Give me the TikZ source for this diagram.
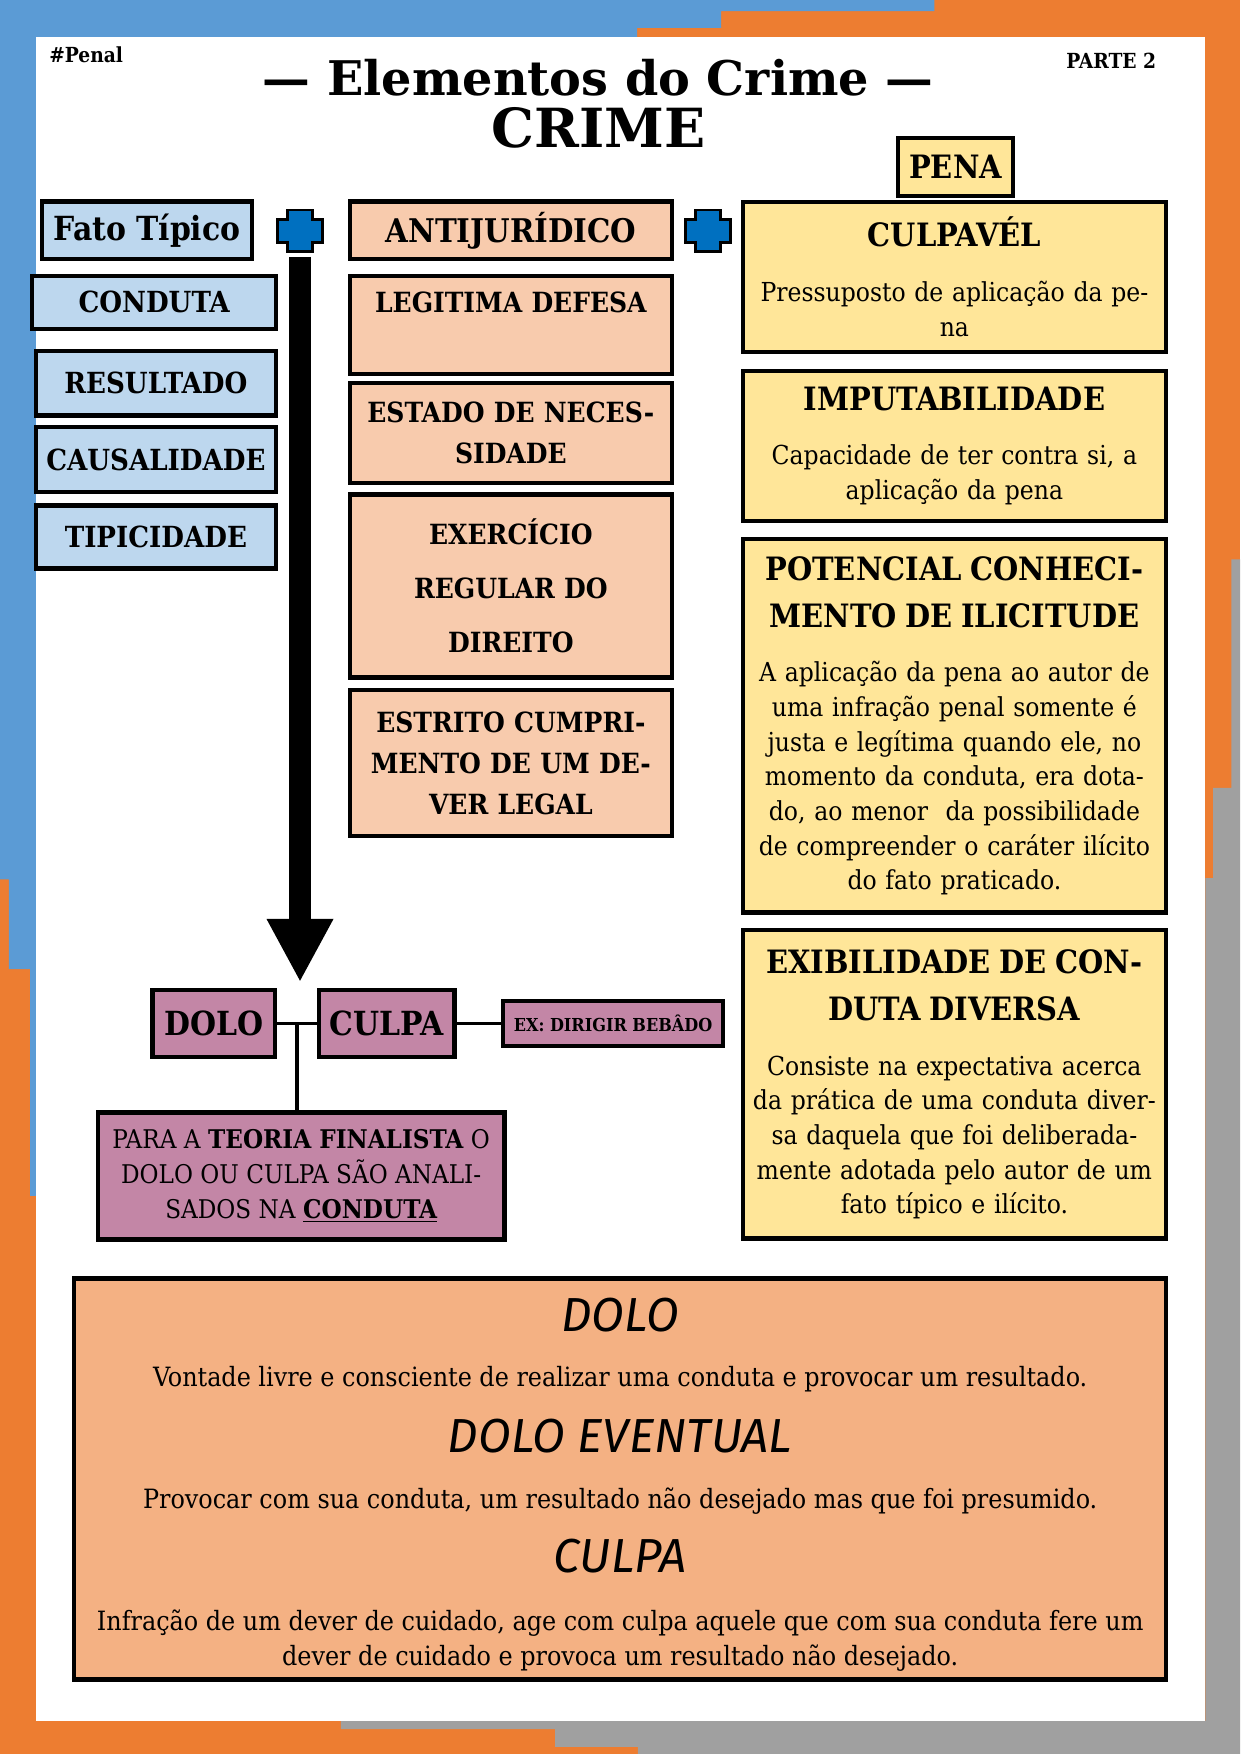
\documentclass[tikz,border=0pt]{standalone}
\usepackage{fontspec}
\setmainfont{DejaVu Serif Condensed}
\newfontfamily\titulofonte{DejaVu Serif}
\newfontfamily\manuscrita{Fira Sans}
\usetikzlibrary{arrows.meta,positioning,calc}
\definecolor{bordaazul}{RGB}{91,155,213}
\definecolor{bordalaranja}{RGB}{237,125,49}
\definecolor{bordacinza}{RGB}{160,160,160}
\definecolor{azulclaro}{RGB}{189,215,238}
\definecolor{pessego}{RGB}{248,203,173}
\definecolor{amarelo}{RGB}{255,230,153}
\definecolor{malva}{RGB}{195,134,166}
\definecolor{salmao}{RGB}{244,177,131}
\definecolor{azulmais}{RGB}{0,112,192}
\newcommand{\cabec}[1]{{\fontsize{15.5}{22.6}\selectfont\bfseries #1\par}}
\tikzset{mais/.pic={
  \draw[fill=azulmais, line width=1.4pt] (-0.38,-0.19) -- (-0.38,0.19) -- (-0.21,0.19) -- (-0.21,0.355) -- (0.21,0.355) -- (0.21,0.19)
    -- (0.38,0.19) -- (0.38,-0.19) -- (0.21,-0.19) -- (0.21,-0.355) -- (-0.21,-0.355) -- (-0.21,-0.19) -- cycle;
  \coordinate (-base) at (0,-0.44);}}

\begin{document}
\begin{tikzpicture}[caixa/.style={draw, line width=2.2pt},
  azulbox/.style={caixa, fill=azulclaro, minimum width=4.06cm, font=\fontsize{14}{16}\selectfont\bfseries},
  pessegobox/.style={caixa, fill=pessego, minimum width=5.45cm, text width=5.35cm, inner xsep=0.05cm, align=center, font=\fontsize{13.4}{19.7}\selectfont\bfseries},
  amarelobox/.style={caixa, fill=amarelo, minimum width=7.16cm, text width=7.0cm, inner xsep=0.08cm, align=center, font=\fontsize{12.6}{16.7}\selectfont},
  malvabox/.style={caixa, fill=malva},
  liga/.style={line width=1.6pt},
  seta/.style={line width=10.6pt, -{Triangle[width=1.05cm, length=1.07cm]}},
  titulo/.style={font=\manuscrita\itshape\fontsize{23}{27}\selectfont, anchor=base},
  texto/.style={font=\fontsize{12.8}{17.3}\selectfont, anchor=base}]
  \useasboundingbox (0,0) rectangle (21,-29.7);
  \fill[bordalaranja] (0,0) rectangle (21,-29.7);
  \fill[bordaazul] (0,0) -| (15.82,-0.19) -| (12.21,-0.47) -| (10.79,-0.627) -| (0.61,-20.25) -| (0.51,-16.41) -| (0.15,-14.89) -| (0,0) -- cycle;
  \fill[bordacinza] (21,-9.47) -- (20.85,-9.47) -- (20.85,-13.34) -- (20.54,-13.34) -- (20.54,-14.87) -- (20.41,-14.87) -- (20.41,-29.14)
    -- (5.77,-29.14) -- (5.77,-29.28) -- (9.40,-29.28) -- (9.40,-29.58) -- (10.80,-29.58) -- (10.80,-29.7) -- (21,-29.7) -- cycle;
  \fill[white] (0.61,-0.627) rectangle (20.41,-29.14);

  \node[anchor=west, font=\fontsize{10}{12}\selectfont\bfseries] (hashtag) at (0.71,-0.93) {\#Penal};
  \node[anchor=east, font=\fontsize{10}{12}\selectfont\bfseries] (parte) at (19.70,-1.03) {PARTE 2};
  \node[font=\titulofonte\fontsize{23}{28}\selectfont\bfseries] (titulo) at (10.13,-1.32) {— Elementos do Crime —};
  \node[font=\titulofonte\fontsize{26}{30}\selectfont\bfseries] (crime) at (10.13,-2.17) {CRIME};
  \node[caixa, fill=amarelo, minimum width=1.95cm, minimum height=0.98cm, font=\fontsize{15.5}{18}\selectfont\bfseries] (pena) at (16.18,-2.83) {PENA};

  \node[azulbox, minimum width=3.56cm, minimum height=0.97cm, font=\fontsize{16}{18}\selectfont\bfseries] (fato) at (2.49,-3.90) {Fato Típico};
  \node[azulbox, minimum width=4.13cm, minimum height=0.90cm] (conduta) at (2.61,-5.12) {CONDUTA};
  \node[azulbox, minimum height=1.10cm] (resultado) at (2.64,-6.49) {RESULTADO};
  \node[azulbox, minimum height=1.10cm] (causalidade) at (2.64,-7.78) {CAUSALIDADE};
  \node[azulbox, minimum height=1.07cm] (tipicidade) at (2.64,-9.09) {TIPICIDADE};

  \pic (somaA) at (5.08,-3.91) {mais};
  \pic (somaB) at (11.99,-3.91) {mais};

  \node[pessegobox, minimum height=0.97cm, font=\fontsize{15.7}{18}\selectfont\bfseries] (antijur) at (8.65,-3.90) {ANTIJURÍDICO};
  \node[pessegobox, minimum height=1.66cm, text height=10pt, text depth=22pt] (legitima) at (8.65,-5.50) {LEGITIMA DEFESA};
  \node[pessegobox, minimum height=1.69cm] (estado) at (8.65,-7.33) {ESTADO DE NECES-\\SIDADE};
  \node[pessegobox, minimum height=3.10cm, font=\fontsize{13.4}{26}\selectfont\bfseries] (exercicio) at (8.65,-9.92) {EXERCÍCIO\\REGULAR DO\\DIREITO};
  \node[pessegobox, minimum height=2.47cm] (estrito) at (8.65,-12.92) {ESTRITO CUMPRI-\\MENTO DE UM DE-\\VER LEGAL};

  \node[amarelobox, minimum height=2.54cm] (culpavel) at (16.16,-4.69) {\cabec{CULPAVÉL}\vspace{9.7pt}Pressuposto de aplicação da pe-\\na};
  \node[amarelobox, minimum height=2.54cm] (imputab) at (16.16,-7.55) {\cabec{IMPUTABILIDADE}\vspace{9.7pt}Capacidade de ter contra si, a\\aplicação da pena};
  \node[amarelobox, minimum height=6.33cm] (potencial) at (16.16,-12.29) {\cabec{POTENCIAL CONHECI-\\MENTO DE ILICITUDE}\vspace{9.7pt}A aplicação da pena ao autor de\\uma infração penal somente é\\justa e legítima quando ele, no\\momento da conduta, era dota-\\do, ao menor\ \ da possibilidade\\de compreender o caráter ilícito\\do fato praticado.};
  \node[amarelobox, minimum height=5.22cm] (exibil) at (16.16,-18.36) {\cabec{EXIBILIDADE DE CON-\\DUTA DIVERSA}\vspace{9.7pt}Consiste na expectativa acerca\\da prática de uma conduta diver-\\sa daquela que foi deliberada-\\mente adotada pelo autor de um\\fato típico e ilícito.};

  \coordinate (ponta) at (5.08,-16.63);
  \draw[seta] (somaA-base) -- (ponta);

  \node[malvabox, minimum width=2.07cm, minimum height=1.13cm, font=\fontsize{16}{20}\selectfont\bfseries] (dolo) at (3.62,-17.33) {DOLO};
  \node[malvabox, minimum width=2.29cm, minimum height=1.13cm, font=\fontsize{16}{20}\selectfont\bfseries] (culpa) at (6.55,-17.33) {CULPA};
  \node[malvabox, minimum width=3.73cm, minimum height=0.76cm, font=\fontsize{8.6}{11}\selectfont\bfseries] (exemplo) at (10.38,-17.33) {EX: DIRIGIR BEBÂDO};
  \node[malvabox, minimum width=6.88cm, minimum height=2.15cm, align=center, font=\fontsize{12.4}{16.8}\selectfont] (nota) at (5.10,-19.91)
    {PARA A \textbf{TEORIA FINALISTA} O\\DOLO OU CULPA SÃO ANALI-\\SADOS NA \textbf{\underline{CONDUTA}}};
  \coordinate (juncao) at ($(dolo.east)!0.5!(culpa.west)$);
  \draw[liga] (dolo) -- (culpa); \draw[liga] (culpa) -- (exemplo);
  \draw[liga] (juncao) -- (juncao |- nota.north);

  \node[caixa, fill=salmao, minimum width=18.49cm, minimum height=6.79cm] (definicoes) at (10.50,-25.04) {};
  \node[titulo] (tdolo) at (10.50,-22.54) {DOLO};
  \node[texto] (ddolo) at (10.50,-23.47) {Vontade livre e consciente de realizar uma conduta e provocar um resultado.};
  \node[titulo] (teventual) at (10.50,-24.59) {DOLO EVENTUAL};
  \node[texto] (deventual) at (10.50,-25.54) {Provocar com sua conduta, um resultado não desejado mas que foi presumido.};
  \node[titulo] (tculpa) at (10.50,-26.62) {CULPA};
  \node[texto, anchor=center, align=center] (dculpa) at (10.50,-27.78) {Infração de um dever de cuidado, age com culpa aquele que com sua conduta fere um\\dever de cuidado e provoca um resultado não desejado.};
\end{tikzpicture}
\end{document}
